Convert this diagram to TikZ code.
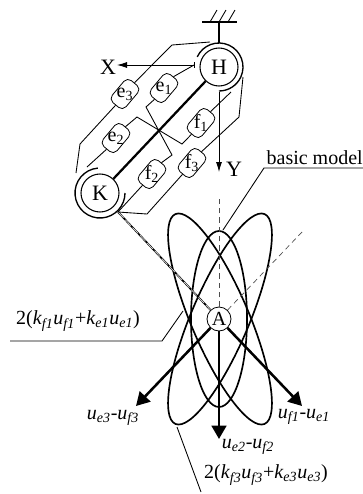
\documentclass[tikz,border=0pt]{standalone}
\usepackage{amsmath}
\usepackage{fontspec}
\setmainfont{Liberation Serif}
\usetikzlibrary{arrows.meta, calc}
\newcommand{\isub}[2]{\textit{#1}$_{\textit{#2}}$}
\newcommand{\rsub}[2]{#1$_{\textrm{#2}}$}

\begin{document}
\begin{tikzpicture}[
      x=0.75pt,
      y=-0.75pt,
      font=\fontsize{15pt}{17pt}\selectfont,
      joint/.style={
        draw,
        circle,
        fill=white,
        minimum size=28.5pt,
        inner sep=0pt,
        line width=0.8pt,
        font=\fontsize{16.5pt}{18pt}\selectfont
      },
      pivot/.style={
        draw,
        circle,
        fill=white,
        minimum size=18pt,
        inner sep=0pt,
        line width=0.6pt
      },
      springbox/.style={
        draw,
        rounded corners=4pt,
        fill=white,
        minimum width=21.5pt,
        minimum height=13.5pt,
        inner sep=0pt,
        line width=0.6pt
      },
      springtext/.style={inner sep=0pt, font=\fontsize{15pt}{17pt}\selectfont},
      eqtext/.style={inner sep=0pt, font=\fontsize{15pt}{17pt}\selectfont},
      wire/.style={line width=0.65pt},
      pulley/.style={line width=1pt},
      lobe/.style={line width=1.25pt},
      axisdash/.style={line width=0.5pt, dash pattern=on 4pt off 3pt, draw=black!70},
      force/.style={-{Triangle[length=10pt,width=11pt]}, line width=1.9pt},
      refarrow/.style={-{Latex[length=7.5pt,width=4.5pt]}, line width=0.65pt}
    ]

    \useasboundingbox (0,0) rectangle (363,494);

    % Lobes
    \draw[lobe] (219,319) ellipse [x radius=28, y radius=88];
    \draw[lobe, rotate around={23:(220,319)}] (220,319) ellipse [x radius=29, y radius=114];
    \draw[lobe, rotate around={-23:(220,319)}] (220,319) ellipse [x radius=29, y radius=114];

    % Dashed axes
    \node[pivot] (A) at (219,319) {};
    \coordinate (Vtop) at (219,198);
    \coordinate (Dtop) at (303,231);
    \draw[axisdash] (A) -- (Vtop);
    \draw[axisdash] (A) -- (Dtop);

    % Links
    \node[joint] (H) at (219,67) {H};
    \node[joint] (K) at (100,193) {K};
    \draw[line width=1.7pt] (H) -- (K);
    \coordinate (Kend) at (118,212);
    \draw[line width=1.3pt] (Kend) -- (A);
    \draw[white, line width=0.4pt, dash pattern=on 6pt off 2pt] (Kend) -- (A);

    % Ground
    \coordinate (Gleft) at (202,22);
    \coordinate (Gright) at (237,22);
    \coordinate (Gstem) at (219,22);
    \draw[line width=0.9pt] (Gleft) -- (Gright);
    \draw[line width=1.5pt] (Gstem) -- (219,43);
    \foreach \hx in {210,219,228}
      \draw[line width=0.65pt] (\hx,22) -- (\hx+7,10);

    % Pulleys
    \draw[pulley] (H.center) ++(-155:24) arc[start angle=-155, end angle=90, radius=24];
    \draw[pulley] (K.center) ++(-95:25) arc[start angle=-95, end angle=-360, radius=25];

    % Springs
    \node[springbox, rotate=50] (e3) at (125,94) {};
    \node[springbox, rotate=50] (e1) at (164,88) {};
    \node[springbox, rotate=50] (e2) at (116,138) {};
    \node[springbox, rotate=50] (f1) at (201,123) {};
    \node[springbox, rotate=50] (f2) at (152,174) {};
    \node[springbox, rotate=50] (f3) at (192,163) {};
    \node[springtext] (e3t) at (e3) {\rsub{e}{3}};
    \node[springtext] (e1t) at (e1) {\rsub{e}{1}};
    \node[springtext] (e2t) at (e2) {\rsub{e}{2}};
    \node[springtext] (f1t) at (f1) {\rsub{f}{1}};
    \node[springtext] (f2t) at (f2) {\rsub{f}{2}};
    \node[springtext] (f3t) at (f3) {\rsub{f}{3}};

    % Tendons
    \draw[wire] (e3.east) -- (172,45) -- (210,42);
    \draw[wire] (e3.west) -- (80,144) -- (76,173);
    \draw[wire] (e1.east) -- (194,65);
    \draw[wire] (e1.west) -- (146,107) -- (172,155) -- (f2.east);
    \draw[wire] (e2.east) -- (137,117) -- (182,144) -- (f1.west);
    \draw[wire] (e2.west) -- (87,167);
    \draw[wire] (f1.east) -- (231,92);
    \draw[wire] (f2.west) -- (Kend);
    \draw[wire] (f3.east) -- (239,117) -- (243,77);
    \draw[wire] (f3.west) -- (147,214) -- (Kend);

    % Reference frame
    \draw[refarrow] (194,65) -- (117,65);
    \draw[wire] (194,62) -- (194,68);
    \draw[refarrow] (219,92) -- (219,172);
    \node[inner sep=0pt, font=\fontsize{16.5pt}{18pt}\selectfont] (Xlabel) at (108,67) {X};
    \node[inner sep=0pt, font=\fontsize{16.5pt}{18pt}\selectfont] (Ylabel) at (234,169) {Y};

    % Forces
    \coordinate (Fleft) at (136,406);
    \coordinate (Fdown) at (219,439);
    \coordinate (Fright) at (302,406);
    \draw[force] (A) -- (Fleft);
    \draw[force] (A) -- (Fdown);
    \draw[force] (A) -- (Fright);
    \node[inner sep=0pt, font=\fontsize{15pt}{17pt}\selectfont] (Atext) at (219,319) {A};

    % Labels
    \node[eqtext, anchor=east] (basic) at (363,158) {basic model};
    \coordinate (Bleft) at (264,168);
    \coordinate (Bright) at (363,168);
    \coordinate (Btip) at (223,230);
    \draw[wire] (Bright) -- (Bleft) -- (Btip);
    \node[eqtext] (sumone) at (78,321) {2(\isub{k}{f1}\isub{u}{f1}+\isub{k}{e1}\isub{u}{e1})};
    \coordinate (Sleft) at (10,341);
    \coordinate (Sbend) at (162,341);
    \coordinate (Stip) at (183,311);
    \draw[wire] (Sleft) -- (Sbend) -- (Stip);
    \node[eqtext] (sumtwo) at (266,475) {2(\isub{k}{f3}\isub{u}{f3}+\isub{k}{e3}\isub{u}{e3})};
    \coordinate (Ttip) at (177,427);
    \coordinate (Tend) at (201,492);
    \draw[wire] (Ttip) -- (Tend);
    \node[eqtext] (uthree) at (113,418) {\isub{u}{e3}-\isub{u}{f3}};
    \node[eqtext] (uone) at (304,417) {\isub{u}{f1}-\isub{u}{e1}};
    \node[eqtext] (utwo) at (248,447) {\isub{u}{e2}-\isub{u}{f2}};

  \end{tikzpicture}
\end{document}
